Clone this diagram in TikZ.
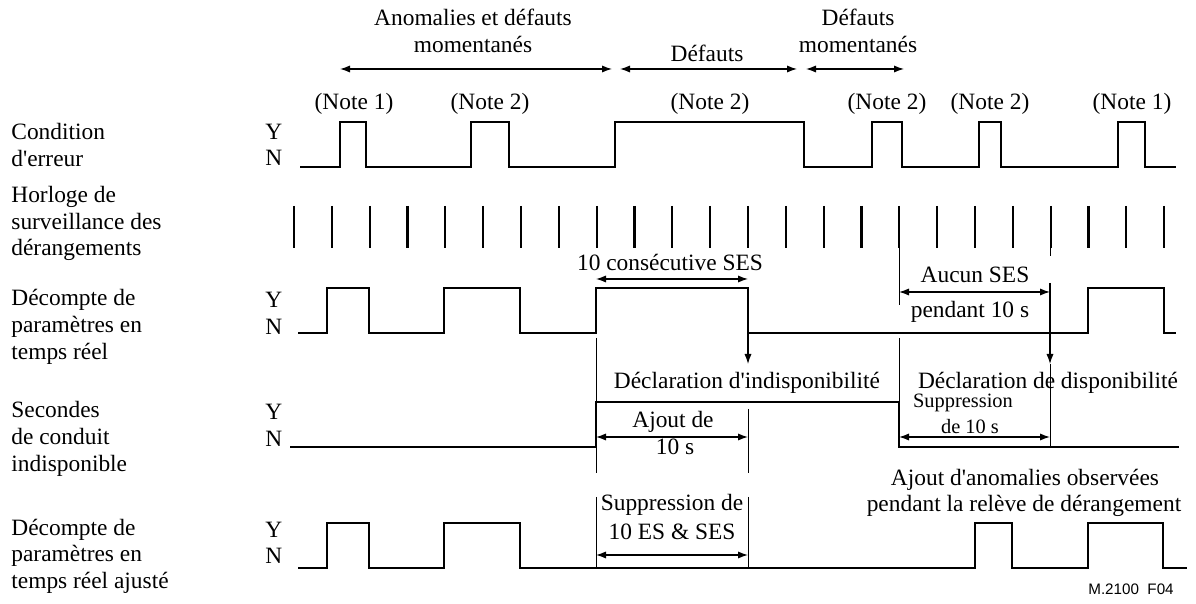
\documentclass[tikz,border=0pt]{standalone}
\usepackage{fontspec}
\setmainfont{Liberation Serif}
\setsansfont{Liberation Sans}
\usetikzlibrary{arrows.meta}

\newcommand{\apo}{\textquotesingle}

\tikzset{
  lbl/.style={font=\fontsize{11.7}{13.4}\selectfont, inner sep=0pt},
  lblsmall/.style={font=\fontsize{10.2}{12}\selectfont, inner sep=0pt},
  wave/.style={line width=0.65pt},
  clocktick/.style={line width=1.1pt},
  marker/.style={line width=0.5pt},
  dimarrow/.style={line width=0.6pt, {Latex[length=5pt,width=3.6pt]}-{Latex[length=5pt,width=3.6pt]}},
  downarrow/.style={line width=0.6pt, -{Latex[length=5pt,width=3.6pt]}}
}

\begin{document}
\begin{tikzpicture}[x=0.5pt, y=-0.5pt]
\useasboundingbox (0,0) rectangle (1196,604);

% row names
\node[lbl, align=left, anchor=west] (cond) at (11,145) {Condition\\d\apo erreur};
\node[lbl, align=left, anchor=west] (clock) at (11,223.5) {Horloge de\\surveillance des\\dérangements};
\node[lbl, align=left, anchor=west] (count) at (11,327) {Décompte de\\paramètres en\\temps réel};
\node[lbl, align=left, anchor=west] (uas) at (11,438.7) {Secondes\\de conduit\\indisponible};
\node[lbl, align=left, anchor=west] (adj) at (11,556.3) {Décompte de\\paramètres en\\temps réel ajusté};

\node[lbl, anchor=west] (condY) at (265,132) {Y};
\node[lbl, anchor=west] (condN) at (265,158) {N};
\node[lbl, anchor=west] (countY) at (265,300) {Y};
\node[lbl, anchor=west] (countN) at (265,327) {N};
\node[lbl, anchor=west] (uasY) at (265,412) {Y};
\node[lbl, anchor=west] (uasN) at (265,439) {N};
\node[lbl, anchor=west] (adjY) at (265,530) {Y};
\node[lbl, anchor=west] (adjN) at (265,556) {N};

% periods on top
\node[lbl, align=center] (anom) at (473,31) {Anomalies et défauts\\momentanés};
\node[lbl] (def) at (707,53) {Défauts};
\node[lbl, align=center] (defmom) at (858,31) {Défauts\\momentanés};
\coordinate (a1) at (340,69); \coordinate (a2) at (612,69);
\coordinate (b1) at (620,69); \coordinate (b2) at (797,69);
\coordinate (c1) at (806,69); \coordinate (c2) at (904,69);
\draw[dimarrow] (a1) -- (a2);
\draw[dimarrow] (b1) -- (b2);
\draw[dimarrow] (c1) -- (c2);

\node[lbl] (note1) at (354,104) {(Note 1)};
\node[lbl] (note2) at (490,104) {(Note 2)};
\node[lbl] (note3) at (710,104) {(Note 2)};
\node[lbl] (note4) at (887,104) {(Note 2)};
\node[lbl] (note5) at (990,104) {(Note 2)};
\node[lbl] (note6) at (1132,104) {(Note 1)};

% error condition
\draw[wave] (300,167) -- (340,167) |- (366,122) |- (471,167) |- (509,122) |- (615,167)
  |- (804,122) |- (872,167) |- (902,122) |- (979,167) |- (1001,122) |- (1118,167)
  |- (1145,122) |- (1176,167);

% clock
\foreach \i in {0,...,23}
  \draw[clocktick] ({294+37.83*\i},206) -- ++(0,42);
\draw[marker] (899,248) -- (899,305);
\draw[marker] (1050,248) -- (1050,256);

% real time count
\draw[wave] (298,333) -- (327,333) |- (369,288) |- (444,333) |- (520,288) |- (596,333)
  |- (748,288) |- (1088,333) |- (1164,288) |- (1176,333);

\node[lbl] (ses10) at (670,262) {10 consécutive SES};
\coordinate (s1) at (596,279); \coordinate (s2) at (748,279);
\draw[dimarrow] (s1) -- (s2);

\node[lbl] (noses) at (975,275) {Aucun SES};
\node[lbl] (during) at (970,312) {pendant 10 s};
\coordinate (n1) at (899,292); \coordinate (n2) at (1050,292);
\draw[dimarrow] (n1) -- (n2);

\coordinate (d1) at (748,333); \coordinate (d1e) at (748,364);
\coordinate (d2) at (1050,283); \coordinate (d2e) at (1050,364);
\draw[downarrow] (d1) -- (d1e);
\draw[downarrow] (d2) -- (d2e);

\node[lbl] (unavail) at (747,383) {Déclaration d\apo indisponibilité};
\node[lbl] (avail) at (1048,383) {Déclaration de disponibilité};

% unavailable seconds
\draw[wave] (290,447) -- (596,447) |- (899,402) |- (1179,447);
\draw[marker] (596,338) -- (596,473);
\draw[marker] (748,409) -- (748,473);
\draw[marker] (899,338) -- (899,402);
\draw[marker] (d2e) -- (1050,447);

\node[lbl] (add1) at (673,422) {Ajout de};
\node[lbl] (add2) at (675,447) {10 s};
\coordinate (j1) at (596,437); \coordinate (j2) at (748,437);
\draw[dimarrow] (j1) -- (j2);

\node[lblsmall] (sup1) at (963,403) {Suppression};
\node[lblsmall] (sup2) at (970,427) {de 10 s};
\coordinate (k1) at (899,437); \coordinate (k2) at (1050,437);
\draw[dimarrow] (k1) -- (k2);

% adjusted count
\node[lbl] (obs1) at (1025,480) {Ajout d\apo anomalies observées};
\node[lbl] (obs2) at (1024,506) {pendant la relève de dérangement};

\draw[wave] (298,568) -- (327,568) |- (369,523) |- (444,568) |- (520,523) |- (975,568)
  |- (1012,523) |- (1088,568) |- (1163,523) |- (1187,568);
\draw[marker] (596,497) -- (596,568);
\draw[marker] (748,497) -- (748,568);

\node[lbl] (del1) at (672,505) {Suppression de};
\node[lbl] (del2) at (672,532) {10 ES \& SES};
\coordinate (m1) at (596,555); \coordinate (m2) at (748,555);
\draw[dimarrow] (m1) -- (m2);

\node[font=\sffamily\fontsize{7.6}{9}\selectfont, inner sep=0pt] (fig) at (1131,589) {M.2100\ \ F04};
\end{tikzpicture}
\end{document}
